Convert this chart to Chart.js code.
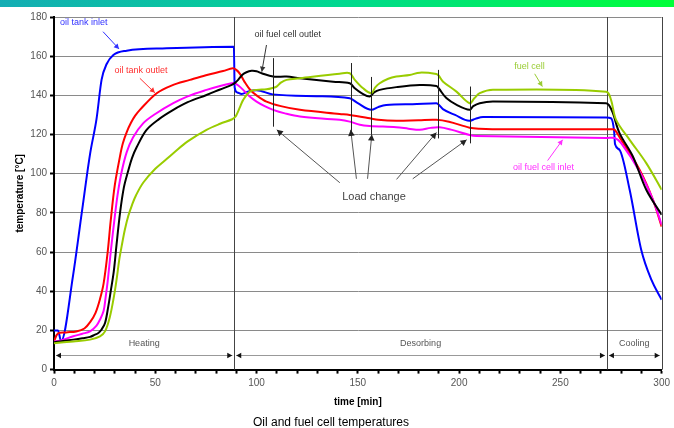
<!DOCTYPE html>
<html>
<head>
<meta charset="utf-8">
<script src="https://cdn.jsdelivr.net/npm/chart.js@4.4.1/dist/chart.umd.min.js"></script>
<style>
  html, body { margin: 0; padding: 0; background: #fff; }
  #band { position: absolute; left: 0; top: 0; width: 674px; height: 7px;
          background: linear-gradient(to right, #14adb4, #00d890 50%, #00ff38); }
  #wrap { position: relative; width: 674px; height: 428px; }
</style>
</head>
<body>
<div id="wrap">
  <canvas id="temps" width="674" height="428"></canvas>
  <div id="band"></div>
</div>
<script>
// time [min], temperature [°C] pairs
const oilTankInlet = [[0,20],[2,20],[3.5,14.5],[9.4,48],[13.7,80],[17.8,110],[21,128],[23.5,148],[26,156],
  [29.3,160.6],[35.9,162.8],[55.6,164],[88.8,164.8],[89.2,144],[90.5,141.5],[92.6,140.7],[96,142],[100,142.6],
  [108,140.5],[129.6,139.6],[146,138.5],[150,136],[156.7,132.6],[160,134],[164,135.1],[177,135.5],[188.8,136],
  [192,133],[198,130],[205,127],[208,128],[211.8,128.9],[272.6,128.7],[275,128.3],[276.5,122],[277,115],
  [279.2,112.2],[284.2,91.8],[289.9,61.2],[294.9,45.9],[300,35.7]];

const oilTankOutlet = [[0,14.4],[2,18.5],[6,19],[11,19.5],[15,21],[18,24.5],[20.5,29],[22.7,36],[24.5,44],
  [26.5,60],[28,76],[30,94],[32.6,109],[34,115.5],[36,121.5],[38,126],[40,129.5],[42.4,132.6],[50.7,141.1],
  [58,145],[67.1,147.9],[75,150.3],[83.5,152.4],[88.3,153.8],[90,153],[91.8,151],[94,147],[96.7,143],[100,140],
  [104.9,136.8],[112,134.5],[121.4,132.6],[141,130.5],[146,130],[155.9,128.3],[160,127.5],[169,127],[180,127.3],
  [188.8,127.5],[195,126.5],[205.2,123.5],[210,123],[223.3,122.7],[275.8,122.7],[277,122.3],[280,117.3],
  [289.1,102],[295.7,86.7],[300,73]];

const oilFuelCellInlet = [[0,14.4],[3,14.8],[9.5,17],[14,18.3],[17.8,19.5],[21,22.5],[22.7,25.5],[24.5,30],
  [25.5,37],[26.5,45],[28,60],[30,78],[31.5,90],[33.4,101],[35.9,111],[39,118.5],[44.1,125.8],[50,130.5],
  [58.9,136],[66,139.5],[75.3,142.8],[82,144.8],[87.7,146.2],[89,146.3],[91,145],[93.4,142.8],[96.5,139.5],
  [100,136.8],[104,134.5],[108.2,132.6],[114,130.8],[121.4,129.2],[141,127.5],[146,126.6],[151,125],
  [155.9,124.4],[169,123.7],[175,123],[180.6,122.4],[186,123.4],[190.4,123.7],[196,122.5],[205.2,119.8],
  [208.5,119.3],[272.6,118.2],[276.8,118.2],[280,115.6],[289.1,101.1],[295.7,86.7],[300,74]];

const oilFuelCellOutlet = [[0,14],[3,14.4],[9.5,15.3],[14,16],[17.8,16.7],[20,17.7],[21.9,18.7],[23.5,20.5],
  [25.2,23.8],[26.8,32.3],[28,40],[29.5,50],[30.9,64],[32.6,80],[34.5,93],[36.5,101],[38.5,108],[40.8,113.5],
  [45.7,122.4],[52,128],[58.9,132.6],[66,136.5],[75.3,140.2],[82,143],[88,145.5],[89.5,146.5],[90.9,147.9],
  [93,150.5],[95,151.8],[97.5,152.5],[100,152.3],[102.5,151.3],[108.2,149.6],[114.8,149.6],[121.4,148.7],
  [137.8,147],[146,146.2],[148.5,143.6],[152,141],[155.9,139.4],[158,141.5],[160.8,142.8],[169,144.2],
  [180.6,145.3],[188.8,144.8],[190,143.5],[193.7,138.6],[199,135],[205.2,132.6],[207,134.5],[210.2,136],
  [216.7,136.8],[272.6,136],[274,135],[275.9,131],[279.2,120.7],[285.8,108.8],[292.4,91.8],[300,79]];

const fuelCell = [[0,13.5],[9.5,14.4],[17.8,15.3],[22.7,17],[25.2,19.5],[27.6,27],[29.6,37.4],[30.9,46],
  [32.2,56],[33.4,63],[35,71.5],[36.7,78.5],[38.5,84],[40.5,89],[44.1,95.5],[50,102.5],[55.6,107.5],[58.9,110.5],
  [66,116.5],[75.3,122.4],[82,125.5],[88,127.8],[89.5,129],[90.1,130],[91.8,134],[93.4,137.7],[96.7,141.9],
  [100,142.8],[104.9,143.1],[108,143.8],[109.9,144.5],[112,146.5],[114.8,147.9],[121.4,148.7],[141,151],
  [146,151.3],[148.5,147.9],[152.6,143.6],[156.7,141.1],[158.5,144],[160.8,146.2],[165,148.5],[169,149.6],
  [175.6,150.4],[180.6,151.6],[188.8,150.9],[190,150],[192.1,147],[198.7,141.9],[205.2,136],[207.5,138.5],
  [210.2,141.1],[216.7,142.8],[272.6,141.9],[275,137.7],[277.5,127.5],[284.2,117.3],[292.4,105.4],[300,91.8]];

// phases along the time axis
const phaseNames = ['Heating', 'Desorbing', 'Cooling'];
const phaseStart = [0, 89, 273];
const phaseEnd = [89, 273, 300];

// load change markers: time, top and bottom temperature
const loadTimes = [108, 146.4, 156.7, 189.5, 205.5];
const loadTop = [159, 156.5, 149.4, 153, 144.5];
const loadBottom = [124, 119, 118.5, 118, 115.5];
// arrows from the "Load change" caption to the markers
const loadArrowFrom = [[141.1,95.4],[149.3,97.4],[154.8,97.4],[169.1,97.1],[177.1,97.4]];
const loadArrowTo = [[110,122.4],[146.5,122.4],[156.9,120],[188.8,121],[203.7,117.3]];

// series captions: text, colour, position, align, arrow start, arrow end
const captions = [
  ['oil tank inlet', '#3030ff', [3, 177], 'left', [24.2,172.5], [32.1,163.7]],
  ['oil tank outlet', '#ff3030', [42.9, 152.5], 'center', [42.4,148.7], [49.8,141.3]],
  ['oil fuel cell outlet', '#333333', [115.4, 171.3], 'center', [104.9,165.7], [102.6,152.1]],
  ['fuel cell', '#99cc33', [234.8, 154.5], 'center', [237.3,151], [241.1,144.5]],
  ['oil fuel cell inlet', '#ff30ff', [241.7, 103.2], 'center', [243.7,106.7], [251.1,117.3]]
];

const FONT = '"Liberation Sans", Arial, sans-serif';

function toPoints(list) {
  return list.map(p => ({ x: p[0], y: p[1] }));
}

function arrow(ctx, x1, y1, x2, y2, size) {
  ctx.beginPath();
  ctx.moveTo(x1, y1);
  ctx.lineTo(x2, y2);
  ctx.stroke();
  const a = Math.atan2(y2 - y1, x2 - x1);
  ctx.beginPath();
  ctx.moveTo(x2, y2);
  ctx.lineTo(x2 - size * Math.cos(a) + size * 0.55 * Math.sin(a), y2 - size * Math.sin(a) - size * 0.55 * Math.cos(a));
  ctx.lineTo(x2 - size * Math.cos(a) - size * 0.55 * Math.sin(a), y2 - size * Math.sin(a) + size * 0.55 * Math.cos(a));
  ctx.closePath();
  ctx.fill();
}

const overlay = {
  id: 'overlay',
  beforeDatasetsDraw(chart) {
    const { ctx, scales: { x, y } } = chart;
    ctx.save();
    ctx.strokeStyle = '#444';
    ctx.lineWidth = 1;
    for (const v of phaseEnd) {
      const px = Math.round(x.getPixelForValue(v)) + 0.5;
      ctx.beginPath();
      ctx.moveTo(px, y.getPixelForValue(0));
      ctx.lineTo(px, y.getPixelForValue(180));
      ctx.stroke();
    }
    // phase arrows and names
    const ay = Math.round(y.getPixelForValue(7.6)) + 0.5;
    ctx.font = '9px ' + FONT;
    ctx.textAlign = 'center';
    ctx.textBaseline = 'middle';
    for (let i = 0; i < phaseNames.length; i++) {
      const a = x.getPixelForValue(phaseStart[i]) + 2;
      const b = x.getPixelForValue(phaseEnd[i]) - 2;
      ctx.strokeStyle = '#999';
      ctx.fillStyle = '#111';
      ctx.beginPath();
      ctx.moveTo(a, ay); ctx.lineTo(b, ay); ctx.stroke();
      arrow(ctx, a + 6, ay, a, ay, 5);
      arrow(ctx, b - 6, ay, b, ay, 5);
      ctx.fillStyle = '#555';
      ctx.fillText(phaseNames[i], (a + b) / 2, y.getPixelForValue(13.3));
    }
    ctx.restore();
  },
  afterDatasetsDraw(chart) {
    const { ctx, scales: { x, y } } = chart;
    ctx.save();
    // load change markers
    ctx.strokeStyle = '#222';
    ctx.lineWidth = 1;
    for (let i = 0; i < loadTimes.length; i++) {
      const px = Math.round(x.getPixelForValue(loadTimes[i])) + 0.5;
      ctx.beginPath();
      ctx.moveTo(px, y.getPixelForValue(loadTop[i]));
      ctx.lineTo(px, y.getPixelForValue(loadBottom[i]));
      ctx.stroke();
    }
    ctx.strokeStyle = '#555';
    ctx.fillStyle = '#222';
    for (let i = 0; i < loadArrowFrom.length; i++) {
      const f = loadArrowFrom[i], t = loadArrowTo[i];
      arrow(ctx, x.getPixelForValue(f[0]), y.getPixelForValue(f[1]),
        x.getPixelForValue(t[0]), y.getPixelForValue(t[1]), 6);
    }
    ctx.font = '11px ' + FONT;
    ctx.fillStyle = '#444';
    ctx.textAlign = 'center';
    ctx.textBaseline = 'middle';
    ctx.fillText('Load change', x.getPixelForValue(158), y.getPixelForValue(88));
    // series captions
    ctx.font = '9px ' + FONT;
    for (const c of captions) {
      ctx.fillStyle = c[1];
      ctx.strokeStyle = c[1];
      ctx.textAlign = c[3];
      ctx.fillText(c[0], x.getPixelForValue(c[2][0]), y.getPixelForValue(c[2][1]));
      arrow(ctx, x.getPixelForValue(c[4][0]), y.getPixelForValue(c[4][1]),
        x.getPixelForValue(c[5][0]), y.getPixelForValue(c[5][1]), 5);
    }
    ctx.restore();
  }
};

function series(label, list, color, mode) {
  return {
    label: label,
    data: toPoints(list),
    borderColor: color,
    borderWidth: 2,
    pointRadius: 0,
    fill: false,
    tension: 0.35,
    cubicInterpolationMode: mode
  };
}

const chart = new Chart(document.getElementById('temps'), {
  type: 'line',
  data: {
    datasets: [
      series('fuel cell', fuelCell, '#99cc00', 'default'),
      series('oil fuel cell outlet', oilFuelCellOutlet, '#000000', 'default'),
      series('oil fuel cell inlet', oilFuelCellInlet, '#ff00ff', 'default'),
      series('oil tank outlet', oilTankOutlet, '#ff0000', 'default'),
      series('oil tank inlet', oilTankInlet, '#0000ff', 'monotone')
    ]
  },
  options: {
    responsive: false,
    animation: false,
    layout: { padding: { top: 17, right: 12, left: 0, bottom: -2 } },
    plugins: {
      legend: { display: false },
      tooltip: { enabled: false },
      title: {
        display: true,
        position: 'bottom',
        text: 'Oil and fuel cell temperatures',
        color: '#000',
        font: { family: FONT, size: 12, weight: 'normal' },
        padding: { top: 5, bottom: 0 }
      }
    },
    scales: {
      x: {
        type: 'linear',
        min: 0,
        max: 300,
        ticks: {
          stepSize: 10,
          autoSkip: false,
          maxRotation: 0,
          padding: 4,
          color: '#555',
          font: { family: FONT, size: 10 },
          callback: v => (v % 50 === 0 ? v : '')
        },
        grid: { drawOnChartArea: false, tickLength: 4, tickColor: '#000', tickWidth: 2 },
        border: { color: '#000', width: 2 },
        title: {
          display: true,
          text: 'time [min]',
          color: '#000',
          font: { family: FONT, size: 10, weight: 'bold' },
          padding: { top: 3, bottom: 2 }
        }
      },
      y: {
        min: 0,
        max: 180,
        ticks: { stepSize: 20, padding: 3, color: '#555', font: { family: FONT, size: 10 } },
        grid: { color: '#8a8a8a', tickLength: 4, tickColor: '#000', tickWidth: 2 },
        border: { color: '#000', width: 2 },
        title: {
          display: true,
          text: 'temperature [°C]',
          color: '#000',
          font: { family: FONT, size: 10, weight: 'bold' },
          padding: { top: 14 }
        },
        afterFit: s => { s.width = 54; }
      }
    }
  },
  plugins: [overlay]
});
</script>
</body>
</html>
